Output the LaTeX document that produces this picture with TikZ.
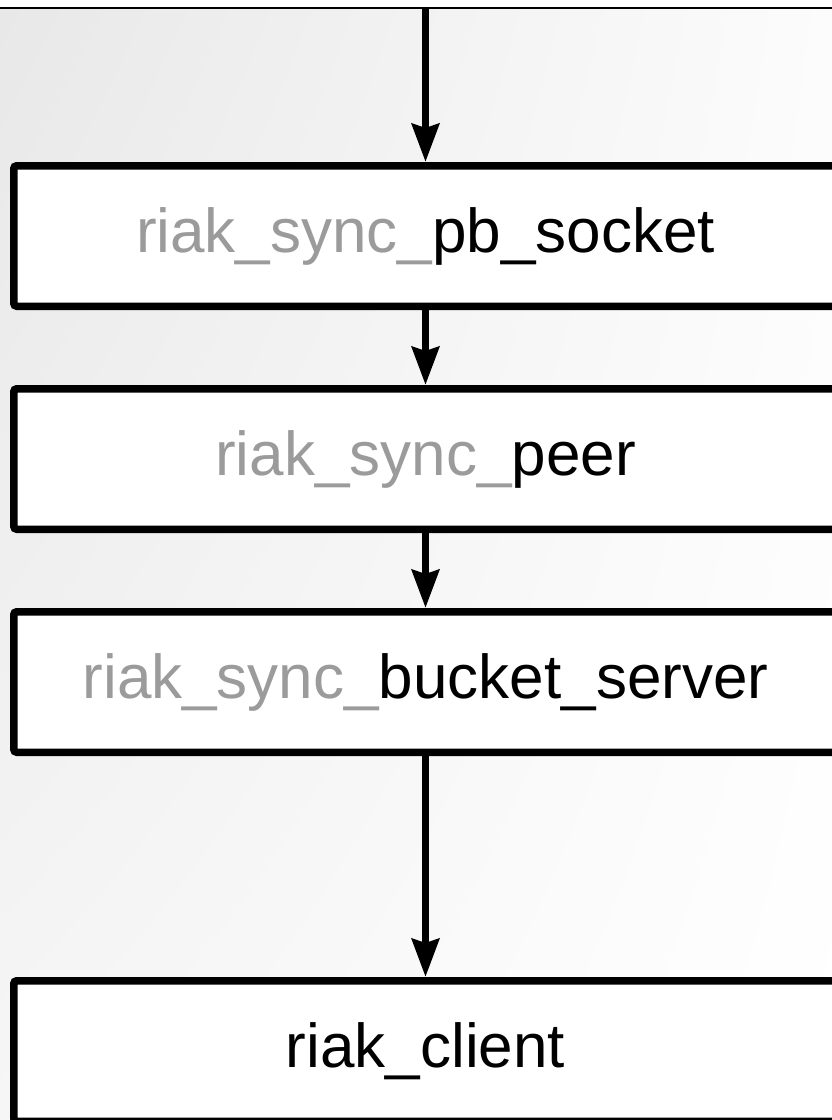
\documentclass[tikz,border=0pt]{standalone}
\usepackage{fontspec}
\setmainfont{Liberation Sans}
\usetikzlibrary{arrows.meta,shadings}
\definecolor{prefixgray}{RGB}{155,155,155}
\definecolor{bgul}{RGB}{232,232,232}
\definecolor{bgll}{RGB}{246,246,246}
\definecolor{bgur}{RGB}{252,252,252}
\begin{document}
\begin{tikzpicture}[x=1pt,y=-1pt,
  modbox/.style={draw=black, line width=7.5pt, fill=white, rounded corners=3pt,
    minimum width=823.5pt, minimum height=140.5pt, inner sep=0pt,
    font=\fontsize{62}{70}\selectfont, anchor=center},
  link/.style={line width=7.5pt, -{Stealth[length=38pt,width=27pt,inset=4pt]}}]
\useasboundingbox (0,0) rectangle (832,1120);
\clip (0,0) rectangle (832,1120);
\fill[white] (0,0) rectangle (832,1120);
\shade[upper left=bgul, lower left=bgll, upper right=bgur, lower right=white] (0,8) rectangle (832,1120);
\draw[line width=1.5pt] (0,8) -- (832,8);
\coordinate (top) at (425.5,8);
\node[modbox] (sock) at (425.5,236) {{\color{prefixgray}riak\_sync\_}pb\_socket};
\node[modbox] (peer) at (425.5,459) {{\color{prefixgray}riak\_sync\_}peer};
\node[modbox] (bsrv) at (425.5,682) {{\color{prefixgray}riak\_sync\_}bucket\_server};
\node[modbox] (client) at (425.5,1051) {riak\_client};
\draw[link] (top) -- (sock.north);
\draw[link] (sock.south) -- (peer.north);
\draw[link] (peer.south) -- (bsrv.north);
\draw[link] (bsrv.south) -- (client.north);
\end{tikzpicture}
\end{document}
